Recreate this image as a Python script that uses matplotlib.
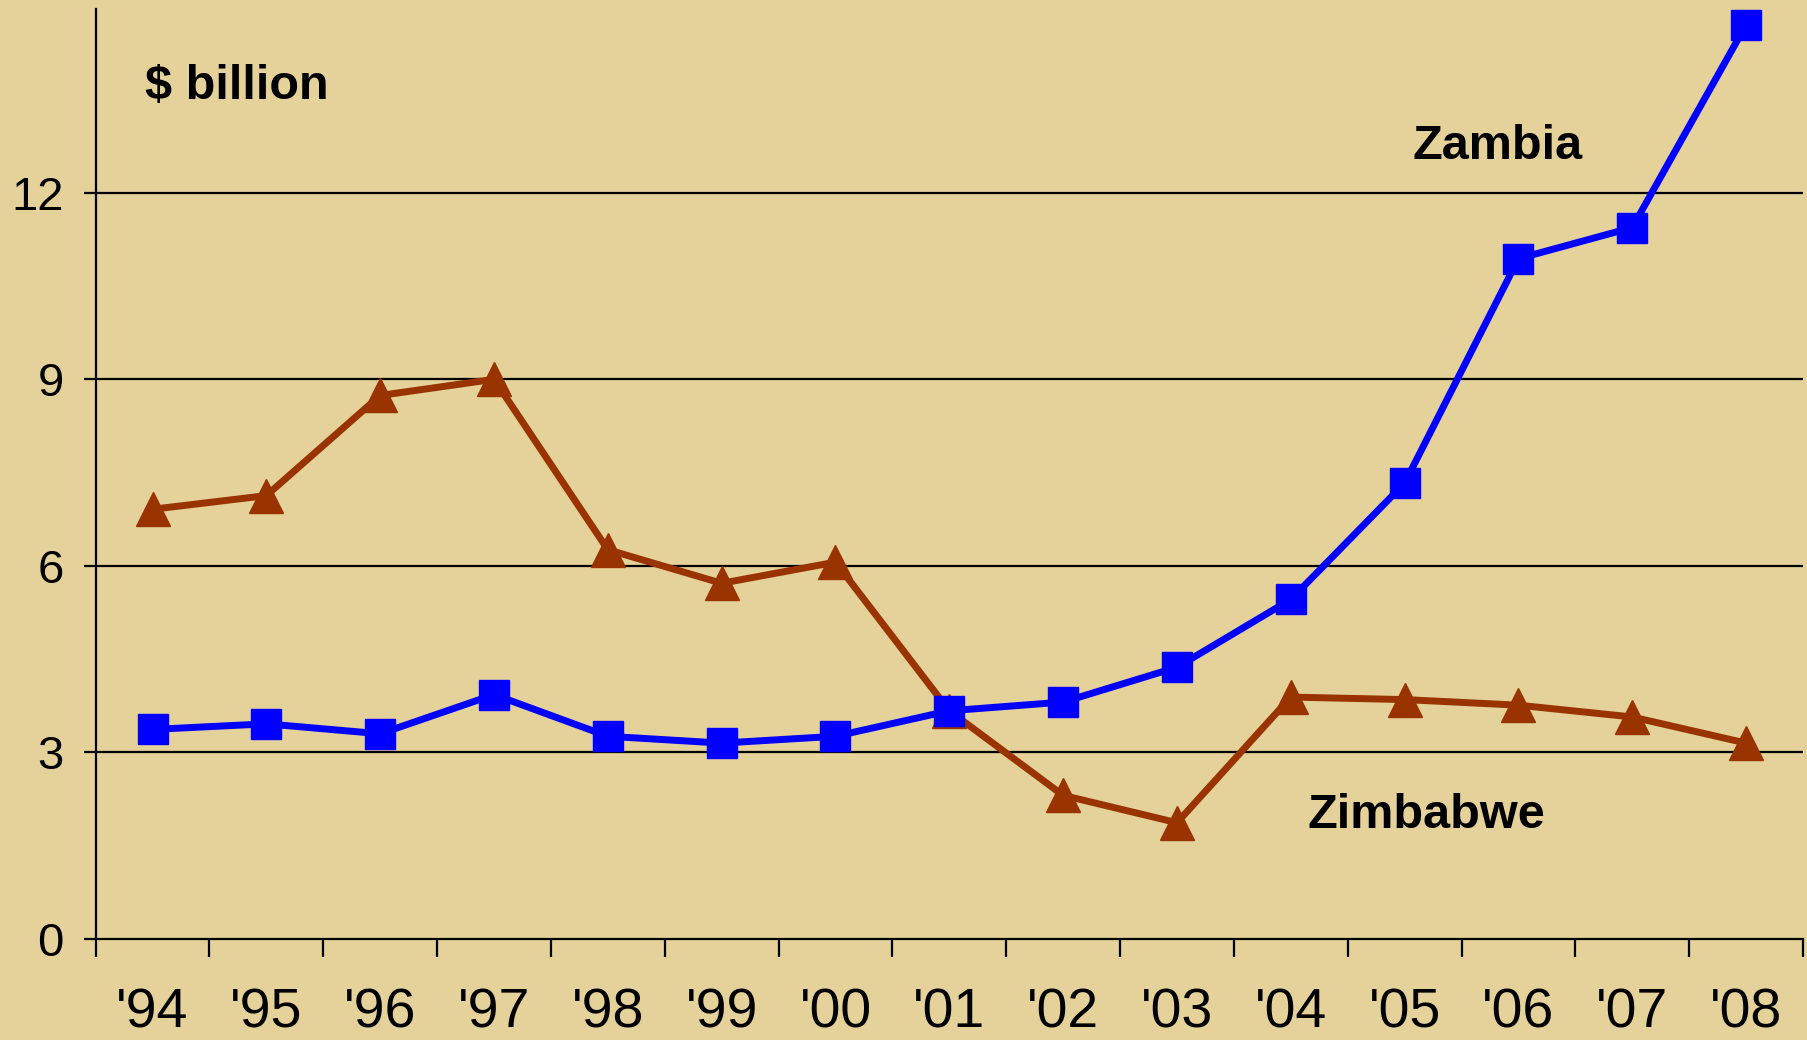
import matplotlib.pyplot as plt

years = ["'94", "'95", "'96", "'97", "'98", "'99", "'00", "'01",
         "'02", "'03", "'04", "'05", "'06", "'07", "'08"]
zambia = [3.37, 3.46, 3.30, 3.93, 3.26, 3.15, 3.26, 3.67,
          3.81, 4.37, 5.46, 7.33, 10.94, 11.44, 14.70]
zimbabwe = [6.91, 7.13, 8.74, 9.00, 6.26, 5.72, 6.06, 3.67,
            2.31, 1.87, 3.89, 3.85, 3.76, 3.57, 3.15]
yticks = [0, 3, 6, 9, 12]

bg = '#E5D19A'
plt.rcParams['font.family'] = ['Liberation Sans', 'DejaVu Sans']

fig = plt.figure(figsize=(18.07, 10.40), dpi=100, facecolor=bg)
ax = fig.add_axes([0.0529, 0.0971, 0.9449, 0.894])
ax.set_facecolor(bg)

x = list(range(len(years)))
for v in yticks[1:]:
    ax.axhline(v, color='black', lw=1.6, zorder=1)

ax.plot(x, zimbabwe, color='#993300', lw=5, marker='^', markersize=25,
        clip_on=False, zorder=3)
ax.plot(x, zambia, color='#0000FF', lw=5, marker='s', markersize=22,
        clip_on=False, zorder=4)

ax.set_xlim(-0.5, len(years) - 0.5)
ax.set_ylim(0, 14.95)

ax.set_xticks([i - 0.5 for i in range(len(years) + 1)])
ax.set_xticklabels([])
ax.set_xticks(x, minor=True)
ax.set_xticklabels(years, minor=True, fontsize=40)
ax.tick_params(axis='x', which='major', direction='out', length=13, width=1.6)
ax.tick_params(axis='x', which='minor', length=0, pad=35)

ax.set_yticks(yticks)
ax.set_yticklabels([str(v) for v in yticks], fontsize=34)
ax.tick_params(axis='y', direction='out', length=9, width=1.6, pad=14)

for s in ['top', 'right']:
    ax.spines[s].set_visible(False)
for s in ['left', 'bottom']:
    ax.spines[s].set_linewidth(1.6)

ax.text(-0.066, 13.7, '$ billion', fontsize=35, fontweight='bold',
        ha='left', va='center')
ax.text(11.82, 12.74, 'Zambia', fontsize=35, fontweight='bold',
        ha='center', va='center')
ax.text(11.19, 1.98, 'Zimbabwe', fontsize=35, fontweight='bold',
        ha='center', va='center')

plt.savefig('out.png', dpi=100, facecolor=bg)
